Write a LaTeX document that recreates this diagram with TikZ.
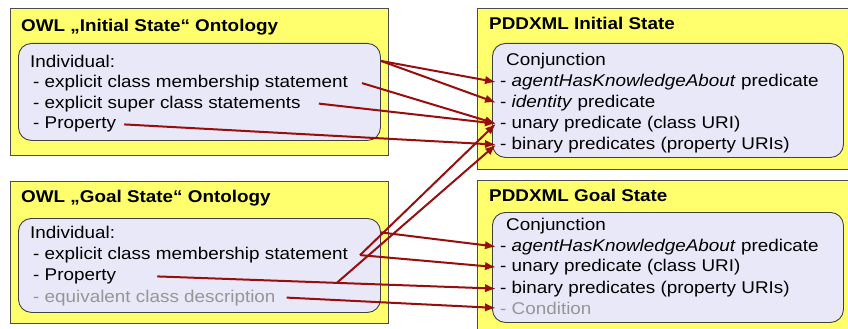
\documentclass[tikz,border=0pt]{standalone}
\usepackage{fontspec}
\setmainfont{Liberation Sans}[FakeStretch=1.11]
\usetikzlibrary{arrows.meta,calc}

\definecolor{paneyellow}{RGB}{255,255,110}
\definecolor{listlav}{RGB}{232,232,248}
\definecolor{linkred}{RGB}{150,14,14}
\definecolor{softgray}{RGB}{150,150,150}

\begin{document}
\begin{tikzpicture}[x=1pt,y=-1pt,
  pane/.style={draw=black!70,fill=paneyellow,line width=1pt,anchor=north west,inner sep=0pt},
  listbox/.style={draw=black!75,fill=listlav,line width=0.9pt,rounded corners=13pt,anchor=north west,inner sep=0pt},
  title/.style={anchor=base west,inner sep=0pt,font=\fontsize{17}{20}\selectfont\bfseries},
  item/.style={anchor=base west,inner sep=0pt,font=\fontsize{17}{20}\selectfont},
  faded/.style={item,text=softgray},
  link/.style={draw=linkred,line width=2pt,-{Latex[length=11pt,width=8.5pt]}},
]
\useasboundingbox (0,0) rectangle (848,329);

% yellow panes
\node[pane,minimum width=378pt,minimum height=147pt] (tlPane) at (10,8) {};
\node[pane,minimum width=380pt,minimum height=161pt] (trPane) at (477,8) {};
\node[pane,minimum width=378pt,minimum height=142pt] (blPane) at (10,181) {};
\node[pane,minimum width=380pt,minimum height=160pt] (brPane) at (477,180) {};

% rounded lists
\node[listbox,minimum width=362pt,minimum height=97pt] (tlList) at (18,43) {};
\node[listbox,minimum width=351pt,minimum height=114pt] (trList) at (492,43) {};
\node[listbox,minimum width=362pt,minimum height=94pt] (blList) at (18,218) {};
\node[listbox,minimum width=351pt,minimum height=110pt] (brList) at (492,212) {};

% OWL initial state
\node[title] (tlTitle) at (21,32) {OWL „Initial State“ Ontology};
\node[item] (tlInd)   at (30,67)    {Individual:};
\node[item] (tlExpl)  at (33,87.5)  {- explicit class membership statement};
\node[item] (tlSuper) at (33,108)   {- explicit super class statements};
\node[item] (tlProp)  at (33,128.5) {- Property};

% PDDXML initial state
\node[title] (trTitle) at (489,30) {PDDXML Initial State};
\node[item] (trConj)   at (506,65.5) {Conjunction};
\node[item] (trAgent)  at (500,86.5) {- \textit{agentHasKnowledgeAbout} predicate};
\node[item] (trIdent)  at (500,107)  {- \textit{identity} predicate};
\node[item] (trUnary)  at (500,128)  {- unary predicate (class URI)};
\node[item] (trBinary) at (500,149)  {- binary predicates (property URIs)};

% OWL goal state
\node[title] (blTitle) at (21,202) {OWL „Goal State“ Ontology};
\node[item]  (blInd)   at (30,238.5) {Individual:};
\node[item]  (blExpl)  at (33,259.5) {- explicit class membership statement};
\node[item]  (blProp)  at (33,280.5) {- Property};
\node[faded] (blEquiv) at (33,302)   {- equivalent class description};

% PDDXML goal state
\node[title] (brTitle) at (489,201) {PDDXML Goal State};
\node[item]  (brConj)   at (506,230.5) {Conjunction};
\node[item]  (brAgent)  at (500,251)   {- \textit{agentHasKnowledgeAbout} predicate};
\node[item]  (brUnary)  at (500,271.5) {- unary predicate (class URI)};
\node[item]  (brBinary) at (500,293)   {- binary predicates (property URIs)};
\node[faded] (brCond)   at (500,314)   {- Condition};

% connector ends
\coordinate (tlCorner) at (tlList.east |- tlInd);
\coordinate (tlExplEnd)  at ([xshift=14pt]tlExpl.east);
\coordinate (tlSuperEnd) at ([xshift=18pt]tlSuper.east);
\coordinate (tlPropEnd)  at ([xshift=8pt]tlProp.east);
\coordinate (blCorner) at (blList.east |- blInd);
\coordinate (blExplEnd)  at ([xshift=12pt]blExpl.east);
\coordinate (blPropEnd)  at ([xshift=41pt]blProp.east);
\coordinate (blEquivEnd) at ([xshift=11pt]blEquiv.east);

\foreach \n in {trAgent,trIdent,trUnary,trBinary,brAgent,brUnary,brBinary,brCond}
  \coordinate (\n Tip) at ([xshift=-4pt]\n.west);

\coordinate (blPropFork) at ($(blPropEnd)!0.53!(brBinaryTip)$);

% mappings of the initial state
\draw[link] (tlCorner) -- (trAgentTip);
\draw[link] (tlCorner) -- (trIdentTip);
\draw[link] (tlExplEnd) -- (trUnaryTip);
\draw[link] (tlSuperEnd) -- (trUnaryTip);
\draw[link] (tlPropEnd) -- (trBinaryTip);

% mappings of the goal state
\draw[link] (blCorner) -- (brAgentTip);
\draw[link] (blExplEnd) -- (brUnaryTip);
\draw[link] (blExplEnd) -- (trUnaryTip);
\draw[link] (blPropEnd) -- (brBinaryTip);
\draw[link] (blPropFork) -- (trBinaryTip);
\draw[link] (blEquivEnd) -- (brCondTip);
\end{tikzpicture}
\end{document}
